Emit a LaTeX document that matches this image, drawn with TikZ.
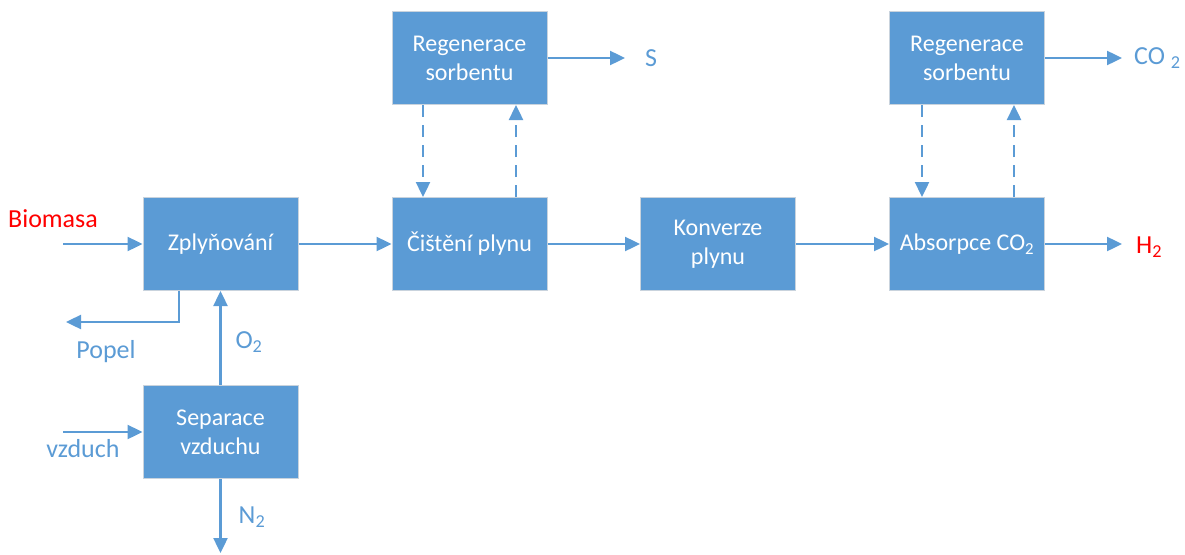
\documentclass[tikz,border=0pt]{standalone}
\usepackage{fontspec}
\setmainfont{Carlito}
\usetikzlibrary{arrows.meta}
\definecolor{ofblue}{HTML}{5B9BD5}
\definecolor{bordergray}{HTML}{C9D3DD}
\begin{document}
\begin{tikzpicture}[x=1pt,y=-1pt,
  box/.style={draw=bordergray,line width=1pt,fill=ofblue,text=white,minimum width=155pt,minimum height=93pt,align=center,inner sep=0pt,font=\fontsize{24}{29}\selectfont},
  lbl/.style={text=ofblue,inner sep=0pt,font=\fontsize{26}{31}\selectfont},
  redlbl/.style={text=red,inner sep=0pt,font=\fontsize{26}{31}\selectfont},
  flow/.style={draw=ofblue,line width=2.4pt,-{Triangle[length=15pt,width=14pt]}},
  dflow/.style={flow,dash pattern=on 12pt off 8pt}
]
\useasboundingbox (0,0) rectangle (1185,554);
\node[box] (zpl) at (220.5,244) {Zplyňování};
\node[box] (cis) at (469.5,244) {Čištění plynu};
\node[box] (kon) at (718,244) {Konverze\\plynu};
\node[box] (abs) at (967,244) {Absorpce CO\textsubscript{2}};
\node[box] (reg1) at (469.5,58) {Regenerace\\sorbentu};
\node[box] (reg2) at (967,58) {Regenerace\\sorbentu};
\node[box] (sep) at (220.5,432) {Separace\\vzduchu};

\node[redlbl] (bio) at (53,219) {Biomasa};
\node[lbl] (popel) at (106,352) {Popel};
\node[lbl] (o2) at (249,342) {O\textsubscript{2}};
\node[lbl] (vzd) at (83,449) {vzduch};
\node[lbl] (n2) at (252,517) {N\textsubscript{2}};
\node[lbl,anchor=west] (s) at (645,58) {S};
\node[lbl,anchor=west] (co2) at (1134,58) {CO \textsubscript{2}};
\node[redlbl,anchor=west] (h2) at (1136,247) {H\textsubscript{2}};

\coordinate (bioin) at (63,244);
\coordinate (vzdin) at (63,432);
\coordinate (popcorner) at (179,322);
\coordinate (popout) at (66,322);
\coordinate (n2out) at (220.5,553);
\coordinate (sout) at (625,58);
\coordinate (co2out) at (1122,58);
\coordinate (h2out) at (1122,244);

\draw[flow] (bioin) -- (zpl.west);
\draw[flow] (zpl) -- (cis);
\draw[flow] (cis) -- (kon);
\draw[flow] (kon) -- (abs);
\draw[flow] (abs.east) -- (h2out);
\draw[flow] (reg1.east) -- (sout);
\draw[flow] (reg2.east) -- (co2out);
\draw[flow] (vzdin) -- (sep.west);
\draw[flow] (sep.north) -- (zpl.south);
\draw[flow] (sep.south) -- (n2out);
\draw[flow] (zpl.south -| popcorner) -- (popcorner) -- (popout);

\draw[dflow] (reg1.south -| 423,0) -- (cis.north -| 423,0);
\draw[dflow] (cis.north -| 516,0) -- (reg1.south -| 516,0);
\draw[dflow] (reg2.south -| 922,0) -- (abs.north -| 922,0);
\draw[dflow] (abs.north -| 1014,0) -- (reg2.south -| 1014,0);
\end{tikzpicture}
\end{document}
